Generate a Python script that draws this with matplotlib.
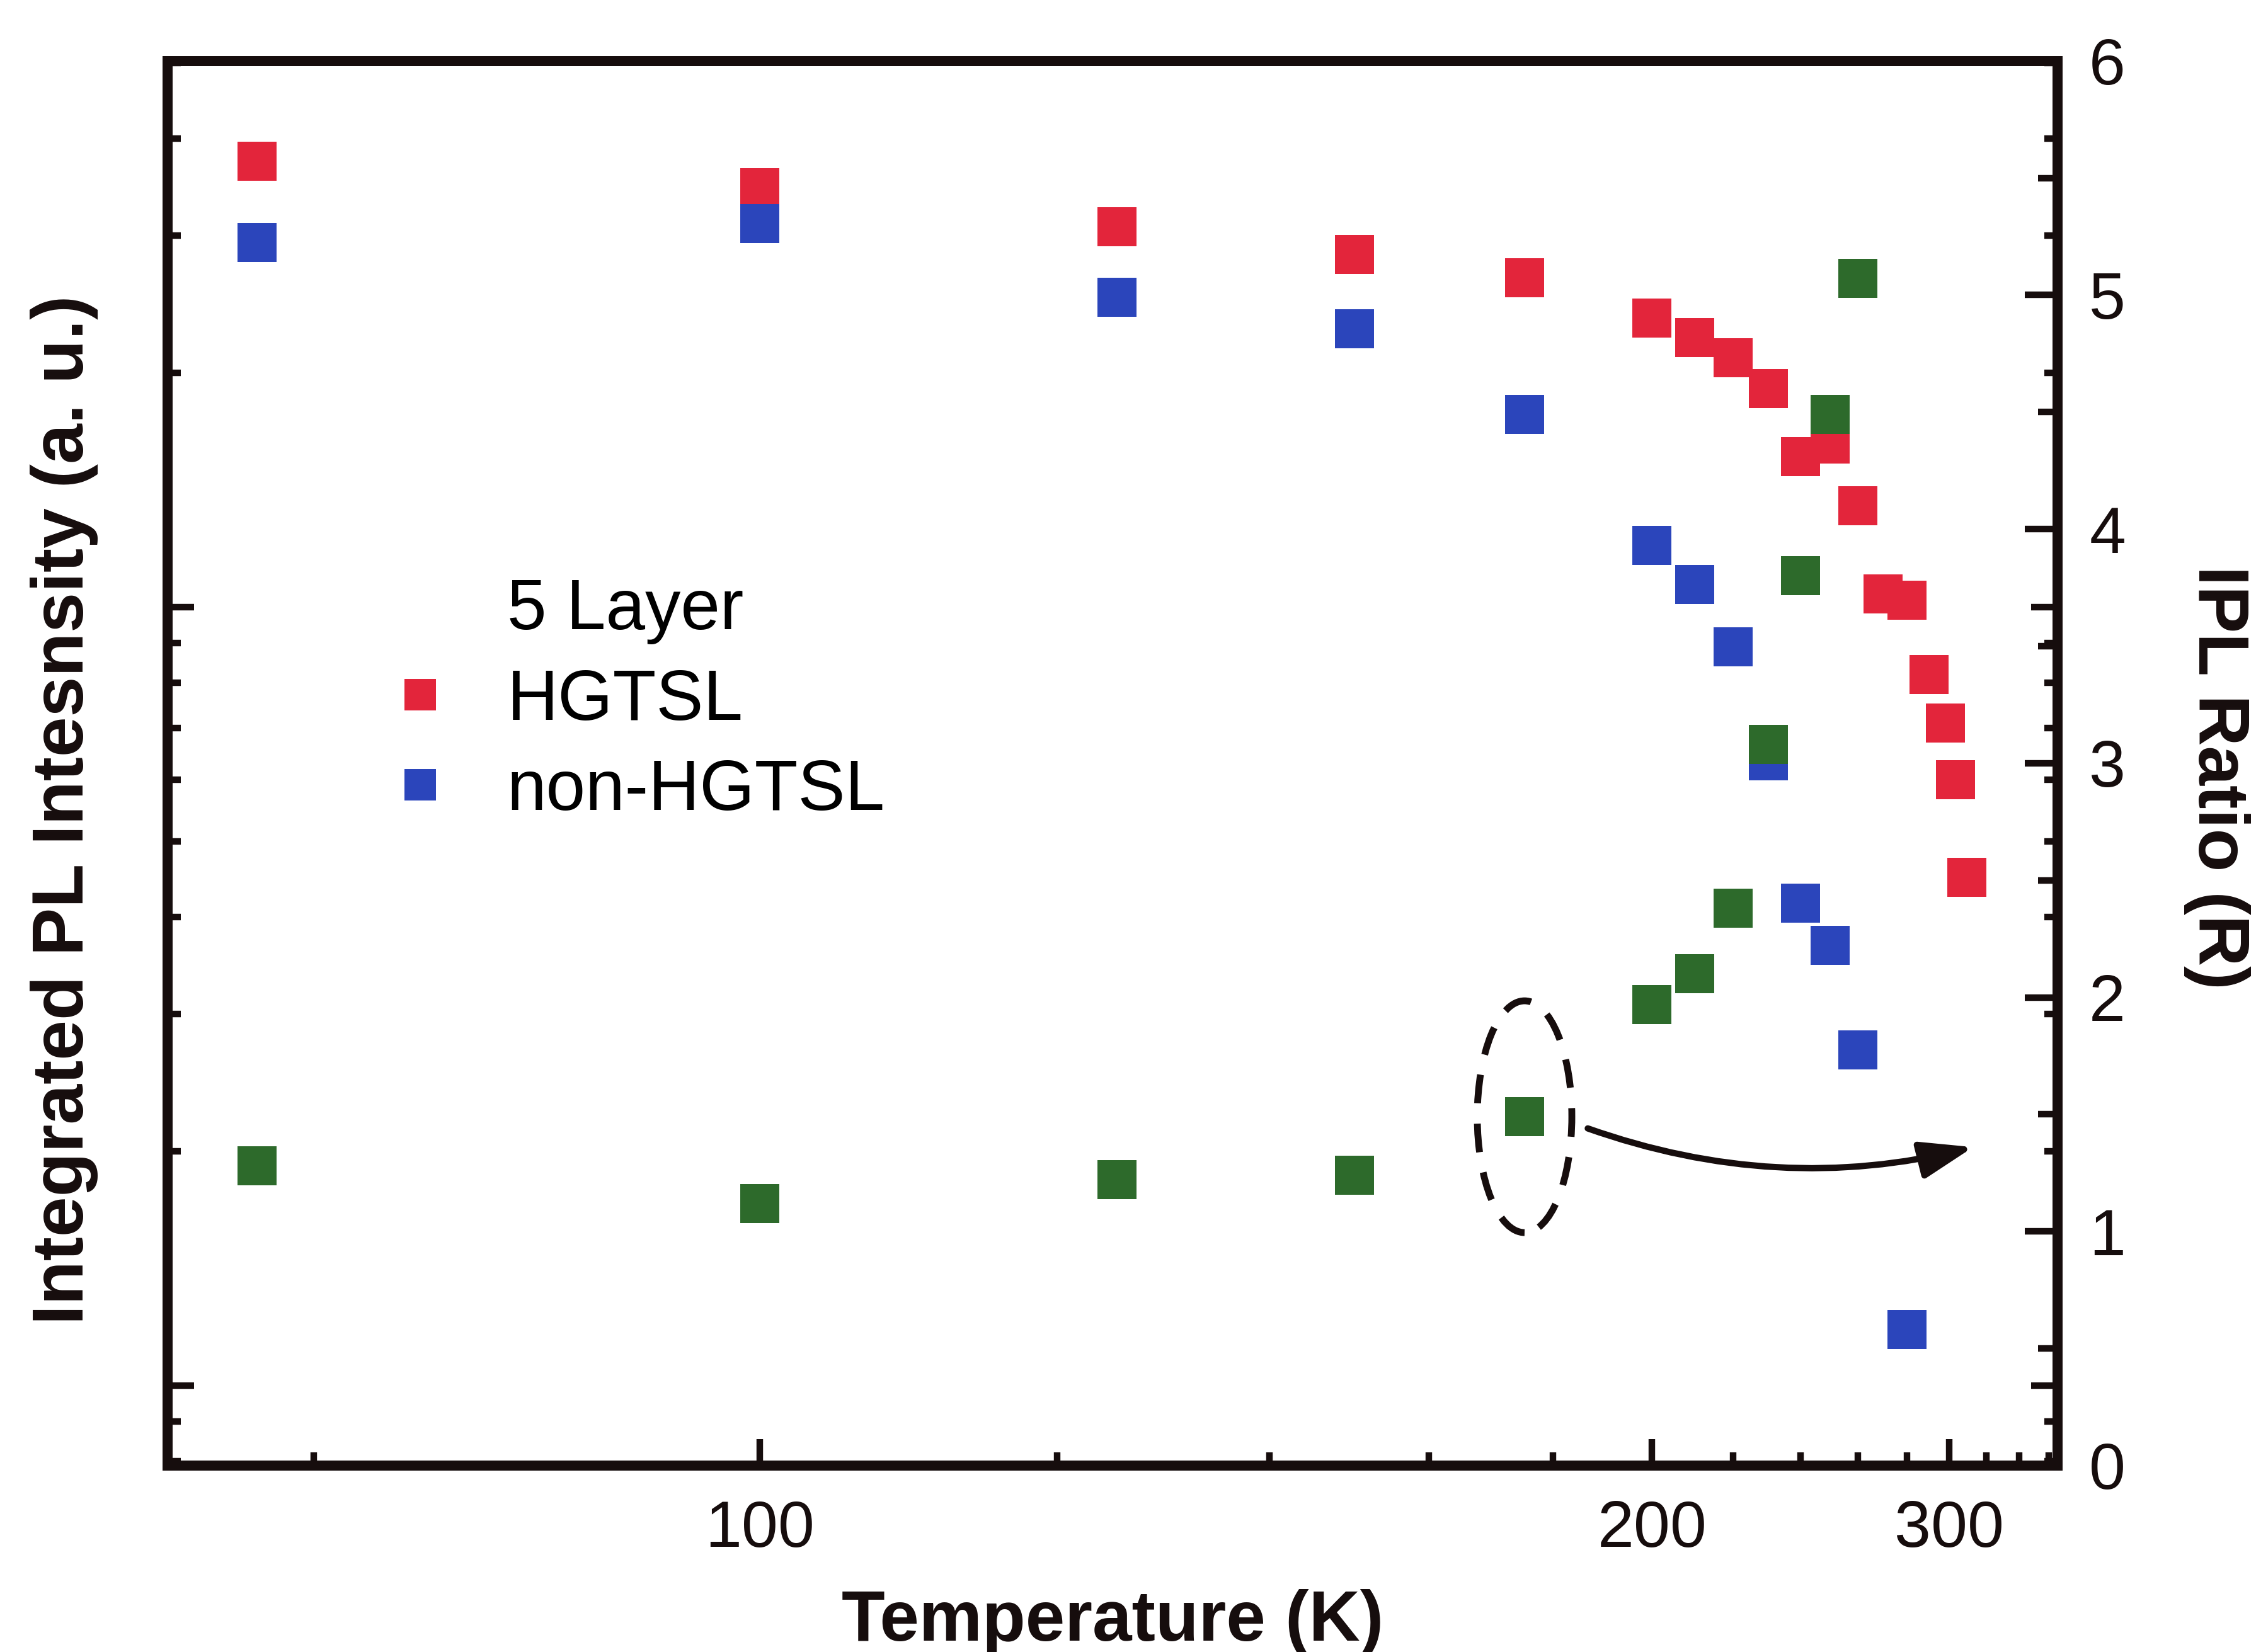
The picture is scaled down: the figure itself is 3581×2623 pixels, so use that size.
import numpy as np
import matplotlib
matplotlib.use('Agg')
import matplotlib.pyplot as plt
from matplotlib.patches import Ellipse
from matplotlib.lines import Line2D
from matplotlib.ticker import NullFormatter, MultipleLocator, LogLocator

plt.rcParams['font.family'] = ['Liberation Sans', 'DejaVu Sans']

# integrated PL intensity (a.u., log axis) vs temperature
temp_hgtsl = [78, 100, 125, 150, 175, 200, 210, 220, 230, 240, 250, 260, 270, 280, 290, 298, 303, 309]
ipl_hgtsl = [37.4, 34.6, 30.8, 28.4, 26.5, 23.5, 22.2, 20.9, 19.1, 15.6, 16.2, 13.5, 10.4, 10.2, 8.2, 7.1, 6.0, 4.5]

temp_non = [78, 100, 125, 150, 175, 200, 210, 220, 230, 240, 250, 260, 280]
ipl_non = [29.4, 31.1, 25.0, 22.8, 17.7, 12.0, 10.7, 8.9, 6.35, 4.17, 3.68, 2.70, 1.18]

# IPL ratio R (right axis)
temp_ratio = [78, 100, 125, 150, 175, 200, 210, 220, 230, 240, 250, 260]
ratio = [1.28, 1.12, 1.22, 1.24, 1.49, 1.97, 2.10, 2.38, 3.08, 3.80, 4.49, 5.07]

t_major = [100, 200, 300]
t_minor = [80, 120, 140, 160, 180, 220, 240, 260, 280, 320, 340, 360]

red = '#e3253b'
blue = '#2b45bb'
green = '#2d6a2b'
ink = '#160d0d'


def inv(t):
    # x axis is 1000/T, drawn reversed so T grows to the right
    return 1000.0 / np.asarray(t, dtype=float)


fig = plt.figure(figsize=(3581 / 300, 2623 / 300), dpi=300, facecolor='white')
ax = fig.add_axes([0.0743, 0.1129, 0.8378, 0.8502])
ax2 = ax.twinx()

h_red, = ax.plot(inv(temp_hgtsl), ipl_hgtsl, 's', color=red, ms=15, mew=0, label='HGTSL')
h_blue, = ax.plot(inv(temp_non), ipl_non, 's', color=blue, ms=15, mew=0, label='non-HGTSL')
ax2.plot(inv(temp_ratio), ratio, 's', color=green, ms=15, mew=0)

ax.set_xlim(13.32, 2.726)
ax.set_yscale('log')
ax.set_ylim(0.79, 50.3)
ax2.set_ylim(0, 6)

# x ticks labelled in temperature
ax.set_xticks(inv(t_major), labels=[str(t) for t in t_major])
ax.set_xticks(inv(t_minor), minor=True)

# left log axis: ticks only, no numbers
ax.yaxis.set_major_locator(LogLocator(base=10))
ax.yaxis.set_minor_locator(LogLocator(base=10, subs=np.arange(2, 10)))
ax.yaxis.set_major_formatter(NullFormatter())
ax.yaxis.set_minor_formatter(NullFormatter())

ax2.yaxis.set_major_locator(MultipleLocator(1))
ax2.yaxis.set_minor_locator(MultipleLocator(0.5))

ax.tick_params(axis='both', which='both', direction='in', width=2.5, color=ink,
               labelsize=25, labelcolor=ink, right=True, top=False)
ax.tick_params(axis='both', which='major', length=10, pad=13)
ax.tick_params(axis='both', which='minor', length=5)
ax2.tick_params(axis='y', which='both', direction='in', width=2.5, color=ink,
                labelsize=25, labelcolor=ink, pad=12)
ax2.tick_params(axis='y', which='major', length=12.5)
ax2.tick_params(axis='y', which='minor', length=7.5)

for a in (ax, ax2):
    for s in a.spines.values():
        s.set_linewidth(3.8)
        s.set_color(ink)

ax.set_xlabel('Temperature (K)', fontsize=27, fontweight='bold', color=ink, va='top')
ax.xaxis.set_label_coords(0.5, -0.088)
ax.set_ylabel('Integrated PL Intesnsity (a. u.)', fontsize=27.5, fontweight='bold', color=ink)
ax.yaxis.set_label_coords(-0.0367, 0.467)
ax2.set_ylabel('IPL Ratio (R)', fontsize=27, fontweight='bold', color=ink,
               rotation=270, va='bottom')
ax2.yaxis.set_label_coords(1.0667, 0.49)

# legend with a title row aligned with the labels
blank = Line2D([], [], ls='none')
ax.legend([blank, h_red, h_blue], ['5 Layer', 'HGTSL', 'non-HGTSL'],
          loc='upper left', bbox_to_anchor=(0.115, 0.632), frameon=False,
          fontsize=27, handlelength=1.0, handletextpad=0.72, labelspacing=0.33,
          borderpad=0, borderaxespad=0, markerscale=0.8)

# dashed ellipse around the 175 K ratio point and the curved arrow to the right axis
ax2.add_patch(Ellipse((inv(175), 1.49), 0.53, 0.99, fill=False, ec=ink,
                      lw=2.6, ls=(0, (4.2, 3.0))))
ax2.annotate('', xy=(3.20, 1.36), xytext=(5.36, 1.44),
             arrowprops=dict(arrowstyle='-|>,head_length=0.85,head_width=0.3',
                             connectionstyle='arc3,rad=0.15', color=ink, lw=2.4,
                             mutation_scale=20, shrinkA=0, shrinkB=0))

fig.savefig('out.png', dpi=300, facecolor='white')
